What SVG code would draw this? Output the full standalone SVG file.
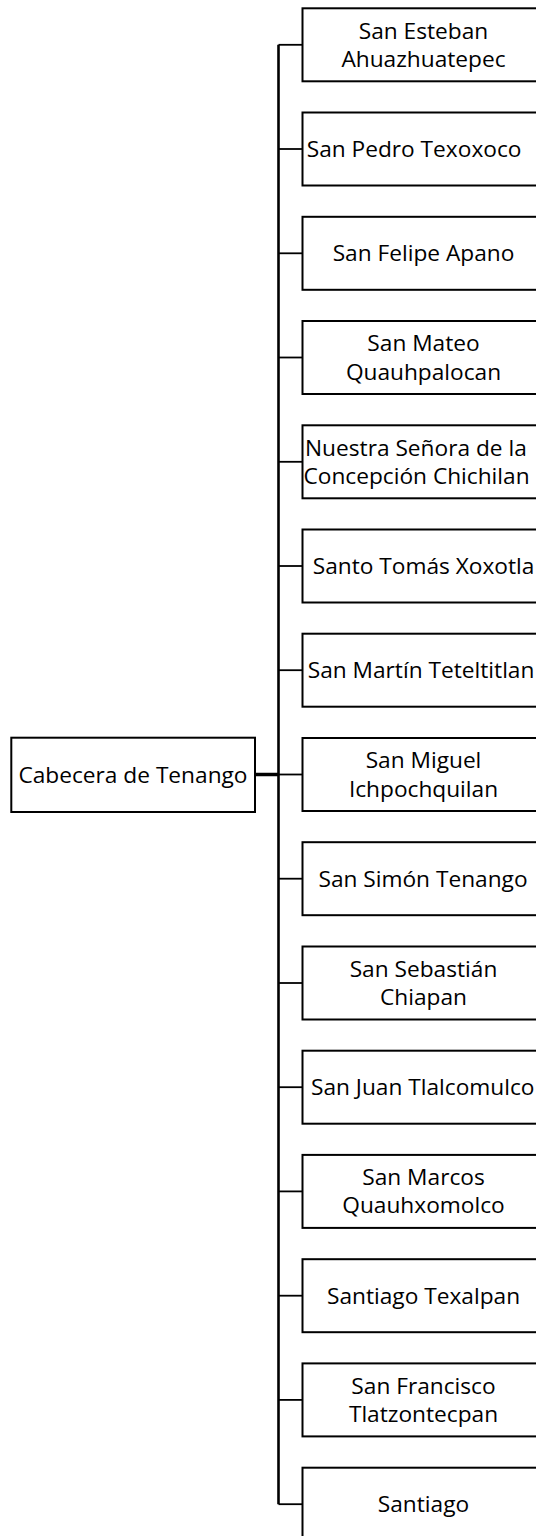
<svg xmlns="http://www.w3.org/2000/svg" width="536" height="1536" viewBox="0 0 536 1536">
<style>
.box{fill:#fff;stroke:#000;stroke-width:2}
.t{font-family:"Open Sans","Noto Sans",sans-serif;font-size:22.7px;fill:#000;text-anchor:middle}
.s{text-anchor:start}
.c{stroke:#000;fill:none}
</style>
<rect width="536" height="1536" fill="#fff"/>
<g id="connectors">
<line class="c" x1="278.5" y1="44.8" x2="278.5" y2="1504.2" stroke-width="2.6"/>
<line class="c" x1="255" y1="774.5" x2="278.5" y2="774.5" stroke-width="3.5"/>
<g stroke-width="1.8">
<line class="c" x1="278.5" y1="44.8" x2="302" y2="44.8"/>
<line class="c" x1="278.5" y1="149" x2="302" y2="149"/>
<line class="c" x1="278.5" y1="253.3" x2="302" y2="253.3"/>
<line class="c" x1="278.5" y1="357.5" x2="302" y2="357.5"/>
<line class="c" x1="278.5" y1="461.8" x2="302" y2="461.8"/>
<line class="c" x1="278.5" y1="566" x2="302" y2="566"/>
<line class="c" x1="278.5" y1="670.2" x2="302" y2="670.2"/>
<line class="c" x1="278.5" y1="774.5" x2="302" y2="774.5"/>
<line class="c" x1="278.5" y1="878.7" x2="302" y2="878.7"/>
<line class="c" x1="278.5" y1="983" x2="302" y2="983"/>
<line class="c" x1="278.5" y1="1087.2" x2="302" y2="1087.2"/>
<line class="c" x1="278.5" y1="1191.4" x2="302" y2="1191.4"/>
<line class="c" x1="278.5" y1="1295.7" x2="302" y2="1295.7"/>
<line class="c" x1="278.5" y1="1399.9" x2="302" y2="1399.9"/>
<line class="c" x1="278.5" y1="1504.2" x2="302" y2="1504.2"/>
</g>
</g>
<g id="root">
<rect class="box" x="11.3" y="737.7" width="243.7" height="74.3"/>
<text class="t" x="133" y="782.5">Cabecera de Tenango</text>
</g>
<g id="n0"><rect class="box" x="302.5" y="8.3" width="242" height="73"/>
<text class="t" x="423.5" y="38.6">San Esteban</text><text class="t" x="423.5" y="66.8">Ahuazhuatepec</text></g>
<g id="n1"><rect class="box" x="302.5" y="112.5" width="242" height="73"/>
<text class="t s" x="306.7" y="157">San Pedro Texoxoco</text></g>
<g id="n2"><rect class="box" x="302.5" y="216.8" width="242" height="73"/>
<text class="t" x="423.5" y="261.3">San Felipe Apano</text></g>
<g id="n3"><rect class="box" x="302.5" y="321" width="242" height="73"/>
<text class="t" x="423.5" y="351.3">San Mateo</text><text class="t" x="423.5" y="379.5">Quauhpalocan</text></g>
<g id="n4"><rect class="box" x="302.5" y="425.3" width="242" height="73"/>
<text class="t s" x="305" y="455.6">Nuestra Señora de la</text><text class="t s" x="303.5" y="483.8">Concepción Chichilan</text></g>
<g id="n5"><rect class="box" x="302.5" y="529.5" width="242" height="73"/>
<text class="t s" x="312.7" y="574">Santo Tomás Xoxotla</text></g>
<g id="n6"><rect class="box" x="302.5" y="633.7" width="242" height="73"/>
<text class="t s" x="307.7" y="678.2">San Martín Teteltitlan</text></g>
<g id="n7"><rect class="box" x="302.5" y="738" width="242" height="73"/>
<text class="t" x="423.5" y="768.3">San Miguel</text><text class="t" x="423.5" y="796.5">Ichpochquilan</text></g>
<g id="n8"><rect class="box" x="302.5" y="842.2" width="242" height="73"/>
<text class="t" x="423" y="886.7">San Simón Tenango</text></g>
<g id="n9"><rect class="box" x="302.5" y="946.5" width="242" height="73"/>
<text class="t" x="423.5" y="976.8">San Sebastián</text><text class="t" x="423.5" y="1005">Chiapan</text></g>
<g id="n10"><rect class="box" x="302.5" y="1050.7" width="242" height="73"/>
<text class="t s" x="311" y="1095.2">San Juan Tlalcomulco</text></g>
<g id="n11"><rect class="box" x="302.5" y="1154.9" width="242" height="73"/>
<text class="t" x="423.5" y="1185.2">San Marcos</text><text class="t" x="423.5" y="1213.4">Quauhxomolco</text></g>
<g id="n12"><rect class="box" x="302.5" y="1259.2" width="242" height="73"/>
<text class="t" x="423.5" y="1303.7">Santiago Texalpan</text></g>
<g id="n13"><rect class="box" x="302.5" y="1363.4" width="242" height="73"/>
<text class="t" x="423.5" y="1393.7">San Francisco</text><text class="t" x="423.5" y="1421.9">Tlatzontecpan</text></g>
<g id="n14"><rect class="box" x="302.5" y="1467.7" width="242" height="73"/>
<text class="t" x="423.5" y="1512.2">Santiago</text></g>
</svg>
